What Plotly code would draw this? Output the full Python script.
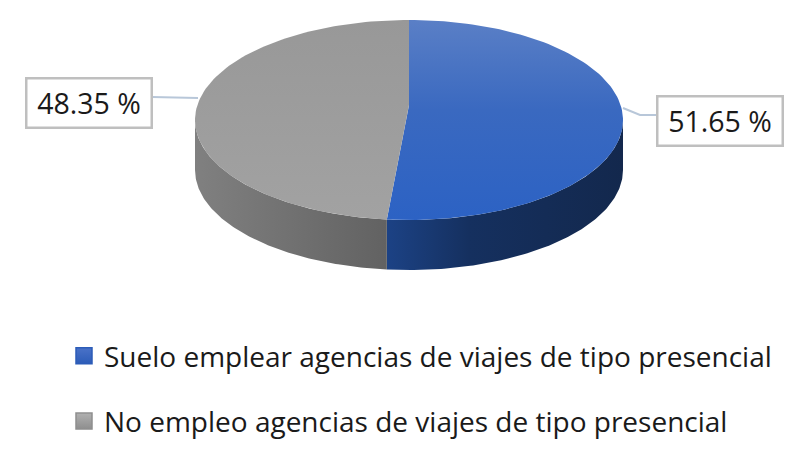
import numpy as np
import plotly.graph_objects as go

labels = ["Suelo emplear agencias de viajes de tipo presencial",
          "No empleo agencias de viajes de tipo presencial"]
values = [51.65, 48.35]
value_text = ["51.65 %", "48.35 %"]

top_colors = [[[0, "#2c62c4"], [0.55, "#3a69c0"], [1, "#5a7fc6"]],
              [[0, "#a2a2a2"], [1, "#989898"]]]
side_colors = [[[0, "#1c4285"], [0.35, "#15305f"], [1, "#13284d"]],
               [[0, "#808080"], [1, "#626262"]]]
legend_colors = [["#4a72c8", "#2c5cb8"], ["#b0b0b0", "#8e8e8e"]]

# pie geometry in page pixels, the wedge tip sits above the ellipse centre because of the tilt
W, H = 797, 456
CX, CY, RX, RY, DEPTH = 409, 120, 214, 100, 50
TIP_Y = 105


def edge(a0, a1, n=120):
    t = np.radians(np.linspace(a0, a1, n))
    return CX + RX * np.sin(t), CY - RY * np.cos(t)


fig = go.Figure()

stops = np.cumsum([0] + values) / sum(values) * 360

# sides first, only the part of each slice facing the viewer
for i in range(2):
    a0, a1 = max(stops[i], 90), min(stops[i + 1], 270)
    x, y = edge(a0, a1)
    fig.add_trace(go.Scatter(
        x=np.r_[x, x[::-1]], y=np.r_[y, y[::-1] + DEPTH],
        mode="lines", line_width=0, fill="toself", showlegend=False, hoverinfo="skip",
        fillcolor=side_colors[i][0][1],
        fillgradient=dict(type="horizontal", colorscale=side_colors[i]),
    ))

# top faces, plotly's vertical gradient starts at the bottom
for i in range(2):
    x, y = edge(stops[i], stops[i + 1])
    fig.add_trace(go.Scatter(
        x=np.r_[CX, x, CX], y=np.r_[TIP_Y, y, TIP_Y],
        mode="lines", line_width=0, fill="toself", showlegend=False,
        text=f"{labels[i]}: {value_text[i]}", hoverinfo="text",
        fillcolor=top_colors[i][0][1],
        fillgradient=dict(type="vertical", colorscale=top_colors[i]),
    ))

# leader lines
for lx, ly in [([152, 198], [97, 98]), ([623, 640, 657], [108, 115, 115])]:
    fig.add_trace(go.Scatter(x=lx, y=ly, mode="lines", line=dict(color="#b8c7d9", width=2),
                             showlegend=False, hoverinfo="skip"))

# legend entries
for i in range(2):
    fig.add_trace(go.Scatter(
        x=[None], y=[None], mode="markers", name=labels[i], legendgroup=str(i),
        marker=dict(symbol="square", size=16, color=legend_colors[i][0],
                    gradient=dict(type="vertical", color=legend_colors[i][1]),
                    line=dict(color=legend_colors[i][1], width=1.5)),
    ))

for i, (bx, by) in enumerate([(720, 121), (88.5, 103)]):
    fig.add_annotation(x=bx, y=by, xref="x", yref="y", text=value_text[i], showarrow=False,
                       width=123, height=47, bgcolor="white", bordercolor="#bfbfbf",
                       borderwidth=2.5, borderpad=0, font=dict(size=28.5, color="#1a1a1a"))

fig.update_layout(
    width=W, height=H, autosize=False,
    margin=dict(l=0, r=0, t=0, b=0),
    paper_bgcolor="white", plot_bgcolor="white",
    font=dict(family="Open Sans", color="#1a1a1a"),
    xaxis=dict(range=[0, W], visible=False, fixedrange=True),
    yaxis=dict(range=[H, 0], visible=False, fixedrange=True),
    legend=dict(x=64 / W, y=1 - 331 / H, xanchor="left", yanchor="top",
                traceorder="grouped", tracegroupgap=26,
                font=dict(size=28, color="#1a1a1a"), bgcolor="rgba(0,0,0,0)"),
)

# drop the page margin so the figure fills the window
fig.write_html("out.html", config=dict(displayModeBar=False),
               post_script="document.body.style.margin='0';")
